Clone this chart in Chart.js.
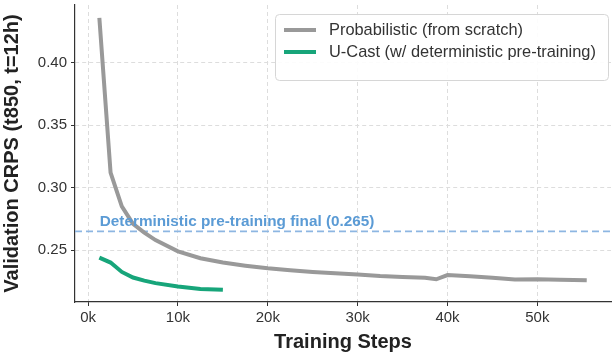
<!DOCTYPE html>
<html>
<head>
<meta charset="utf-8">
<script src="https://cdn.jsdelivr.net/npm/chart.js@4"></script>
<style>
  html, body { margin: 0; padding: 0; background: #fff; }
</style>
</head>
<body>
<canvas id="myChart" width="613" height="354"></canvas>
<script>
const probSteps = [1250, 2500, 3750, 5000, 6250, 7500, 10000, 12500, 15000, 17500, 20000, 22500, 25000,
  27500, 30000, 32500, 35000, 37500, 38750, 40000, 42500, 45000, 47500, 50000, 52500, 55500];
const probCrps = [0.436, 0.312, 0.285, 0.271, 0.264, 0.258, 0.249, 0.2435, 0.240, 0.2375, 0.2354, 0.2338, 0.2325,
  0.2315, 0.2304, 0.2292, 0.2285, 0.2278, 0.2266, 0.2300, 0.2290, 0.2278, 0.2265, 0.2266, 0.2263, 0.2258];

const ucastSteps = [1250, 2500, 3750, 5000, 6250, 7500, 10000, 12500, 15000];
const ucastCrps = [0.244, 0.240, 0.2325, 0.228, 0.2255, 0.2235, 0.2208, 0.2188, 0.2182];

const detFinal = 0.265;
const yTicks = [0.25, 0.30, 0.35, 0.40];
const xTicks = [0, 10000, 20000, 30000, 40000, 50000];

const FONT = "'Liberation Sans', Arial, sans-serif";
const X_MIN = -1460, X_MAX = 58200;

const toPts = (xs, ys) => xs.map((x, i) => ({ x: x, y: ys[i] }));

// legend box + annotation text
const extras = {
  id: 'extras',
  afterDatasetsDraw(chart) {
    const { ctx, scales } = chart;
    const yPix = scales.y.getPixelForValue(detFinal);
    ctx.save();
    ctx.font = "bold 15.3px " + FONT;
    ctx.fillStyle = '#5b9bd5';
    ctx.textBaseline = 'bottom';
    ctx.fillText('Deterministic pre-training final (0.265)', scales.x.getPixelForValue(1300), yPix - 2);

    // legend
    const bx = 275, by = 14, bw = 333, bh = 66;
    ctx.beginPath();
    ctx.roundRect(bx + 0.5, by + 0.5, bw, bh, 4);
    ctx.fillStyle = 'rgba(255,255,255,0.9)';
    ctx.fill();
    ctx.strokeStyle = '#d6d6d6';
    ctx.lineWidth = 1;
    ctx.stroke();
    const items = [['Probabilistic (from scratch)', '#999999'], ['U-Cast (w/ deterministic pre-training)', '#17a57a']];
    ctx.font = "16.4px " + FONT;
    ctx.textBaseline = 'middle';
    items.forEach((it, i) => {
      const yy = by + 16 + i * 22;
      ctx.strokeStyle = it[1];
      ctx.lineWidth = 4;
      ctx.beginPath();
      ctx.moveTo(284, yy);
      ctx.lineTo(316, yy);
      ctx.stroke();
      ctx.fillStyle = '#333';
      ctx.fillText(it[0], 329, yy);
    });
    ctx.restore();
  }
};

const gridOpts = {
  color: '#dddddd',
  tickColor: '#333',
  tickLength: 4,
  lineWidth: 1
};

new Chart(document.getElementById('myChart'), {
  type: 'line',
  data: {
    datasets: [
      {
        label: 'Probabilistic (from scratch)',
        data: toPts(probSteps, probCrps),
        borderColor: '#999999',
        borderWidth: 4,
        pointRadius: 0,
        tension: 0
      },
      {
        label: 'U-Cast (w/ deterministic pre-training)',
        data: toPts(ucastSteps, ucastCrps),
        borderColor: '#17a57a',
        borderWidth: 4,
        pointRadius: 0,
        tension: 0
      },
      {
        label: 'Deterministic pre-training final',
        data: [{ x: X_MIN, y: detFinal }, { x: X_MAX, y: detFinal }],
        borderColor: '#8db6e2',
        borderWidth: 1.6,
        borderDash: [7, 4],
        pointRadius: 0
      }
    ]
  },
  options: {
    responsive: false,
    animation: false,
    layout: { padding: { top: 5, right: 2, left: 0, bottom: 0 } },
    plugins: {
      legend: { display: false },
      tooltip: { enabled: false }
    },
    scales: {
      x: {
        type: 'linear',
        min: X_MIN,
        max: X_MAX,
        afterBuildTicks: s => { s.ticks = xTicks.map(v => ({ value: v })); },
        afterFit: s => { s.height = 52; },
        ticks: {
          callback: v => (v / 1000) + 'k',
          color: '#333',
          font: { family: FONT, size: 15 },
          padding: 3,
          maxRotation: 0
        },
        grid: gridOpts,
        border: { display: true, color: '#333', width: 1.2, dash: [4, 3] },
        title: {
          display: true,
          text: 'Training Steps',
          color: '#222',
          font: { family: FONT, size: 20, weight: 'bold' },
          padding: { top: 0, bottom: 0 }
        }
      },
      y: {
        min: 0.2084,
        max: 0.4464,
        afterBuildTicks: s => { s.ticks = yTicks.map(v => ({ value: v })); },
        afterFit: s => { s.width = 75; s.paddingTop = 0; s.paddingBottom = 0; },
        ticks: {
          callback: v => v.toFixed(2),
          color: '#333',
          font: { family: FONT, size: 15 },
          padding: 4
        },
        grid: gridOpts,
        border: { display: true, color: '#333', width: 1.2, dash: [4, 3] },
        title: {
          display: true,
          text: 'Validation CRPS (t850, t=12h)',
          color: '#222',
          font: { family: FONT, size: 20, weight: 'bold' },
          padding: { top: 0, bottom: 0 }
        }
      }
    }
  },
  plugins: [extras]
});
</script>
</body>
</html>
